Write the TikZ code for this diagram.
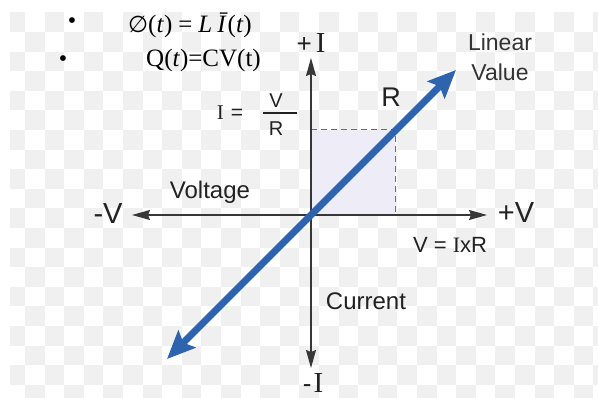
\documentclass[tikz,border=0pt]{standalone}
\usepackage{fontspec}
\setmainfont{Liberation Sans}
\newfontfamily\serifrm{Liberation Serif}
\newfontfamily\djv{DejaVu Sans}
\usetikzlibrary{arrows.meta}
\definecolor{chk}{RGB}{240,240,240}
\definecolor{txt}{RGB}{34,34,34}
\definecolor{txtb}{RGB}{51,51,51}
\definecolor{axisc}{RGB}{55,55,55}
\definecolor{lineblue}{RGB}{46,99,173}
\definecolor{shadec}{RGB}{238,237,247}
\definecolor{dashc}{RGB}{110,110,110}
\newcommand\fsz[1]{\fontsize{#1}{#1}\selectfont}
\begin{document}
\begin{tikzpicture}[x=1pt,y=-1pt,
  lbl/.style={text=txt, inner sep=0pt},
  axisline/.style={draw=axisc, line width=1.4pt, >={Stealth[length=18pt,width=10pt,inset=2pt]}, <->},
  bluearrow/.style={draw=lineblue, line width=7pt, >={Stealth[length=28pt,width=24pt,inset=5pt]}, <->},
  dashline/.style={draw=dashc, line width=1pt, dash pattern=on 6pt off 4pt}]
\useasboundingbox (0,0) rectangle (598,398);
\fill[white] (0,0) rectangle (598,398);
% checkerboard background
\begin{scope}
\clip (10,10) rectangle (598,398);
\foreach \i in {0,...,30}{\foreach \j in {0,...,20}{%
  \pgfmathtruncatemacro\chkpar{mod(\i+\j,2)}%
  \ifnum\chkpar=0 \fill[chk] ({5.4+\i*19.6},{12.4+\j*19.6}) rectangle ++(19.6,19.6);\fi}}
\end{scope}
% geometry
\coordinate (O) at (311,215);
\coordinate (Vm) at (132,215);
\coordinate (Vp) at (487,215);
\coordinate (Ip) at (311,58);
\coordinate (Im) at (311,368);
\coordinate (Bl) at (167,359);
\coordinate (Tr) at (456,70);
\coordinate (Qc) at (395,130);
\fill[shadec] (O) rectangle (Qc);
\draw[dashline] (O |- Qc) -- (Qc) -- (Qc |- O);
\draw[axisline] (Vm) -- (Vp);
\draw[axisline] (Im) -- (Ip);
\draw[bluearrow] (Bl) -- (Tr);
% labels
\node[lbl, font=\fsz{29}] (vminus) at (108,214) {-V};
\node[lbl, font=\fsz{29}] (vplus) at (516,213) {+V};
\node[lbl, font=\fsz{26}] (iplus) at (311,43) {+\hspace{4pt}{\serifrm\fsz{29}I}};
\node[lbl, font=\fsz{26}] (iminus) at (313,383) {-\hspace{2pt}{\serifrm\fsz{29}I}};
\node[lbl, font=\fsz{27}] (rlab) at (391,97) {R};
\node[lbl, text=txtb, font=\fontsize{23}{30}\selectfont, align=center] (lin) at (500,57) {Linear\\Value};
\node[lbl, font=\fsz{24}, anchor=base] (volt) at (210,199) {Voltage};
\node[lbl, font=\fsz{24}, anchor=base] (curr) at (366,310) {Current};
\node[lbl, font=\fsz{22}, anchor=base] (vir) at (450,253) {V = {\serifrm I}xR};
\node[lbl, font=\fsz{21}] (ieq) at (230,113) {{\serifrm I}\hspace{7pt}=};
\node[lbl, font=\fsz{20}] (fv) at (276,101) {V};
\node[lbl, font=\fsz{20}] (fr) at (276,129) {R};
\draw[draw=txt, line width=1.3pt] (263,113) -- (297,113);
% top formulas
\node[lbl, text=black, font=\serifrm\fsz{24}] (b1) at (72,23) {•};
\node[lbl, text=black, font=\serifrm\fsz{24}] (b2) at (63,61) {•};
\node[lbl, text=black, font=\serifrm\fsz{25}, anchor=west] (eq1) at (128,25) {{\djv\fsz{23}∅}(\textit{t})\hspace{6pt}=\hspace{6pt}\textit{L}\hspace{5pt}\textit{Ī}(\textit{t})};
\node[lbl, text=black, font=\serifrm\fsz{25}, anchor=west] (eq2) at (146,60) {Q(\textit{t})=CV(t)};
\end{tikzpicture}
\end{document}
